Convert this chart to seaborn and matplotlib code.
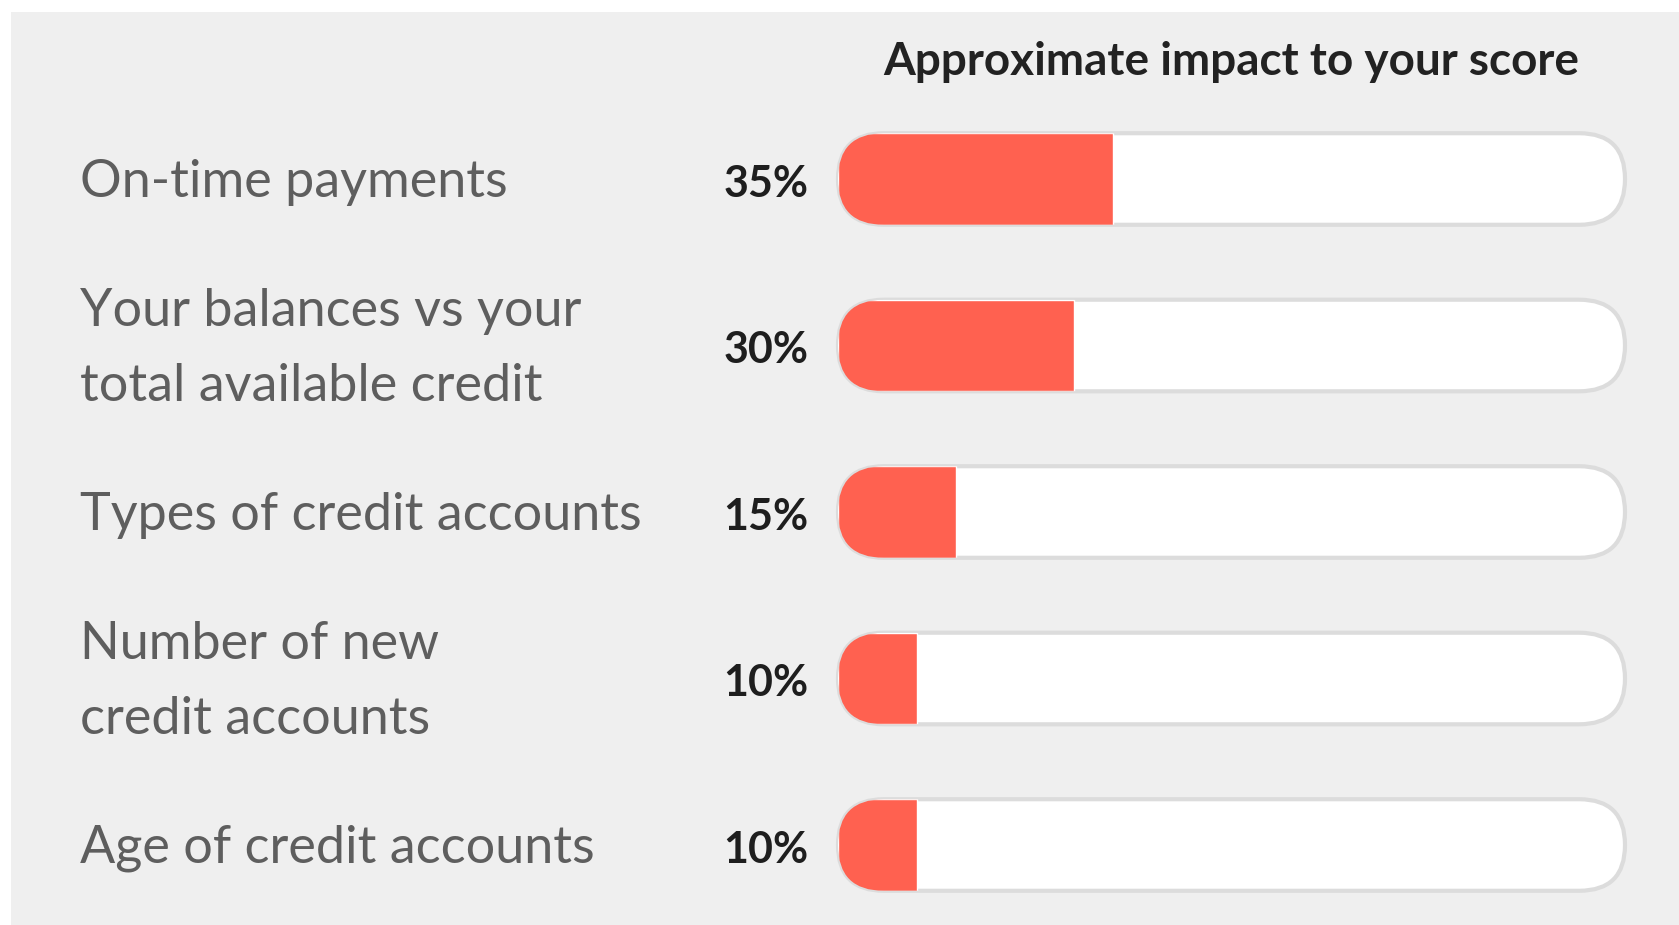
import numpy as np
import pandas as pd
import seaborn as sns
import matplotlib.pyplot as plt
from matplotlib.patches import FancyBboxPatch, Rectangle
from matplotlib.transforms import blended_transform_factory

# data
factors = ['On-time payments',
           'Your balances vs your\ntotal available credit',
           'Types of credit accounts',
           'Number of new\ncredit accounts',
           'Age of credit accounts']
impact = [35, 30, 15, 10, 10]
title = 'Approximate impact to your score'

df = pd.DataFrame({'factor': factors, 'impact': impact})

sns.set_style('white')
plt.rcParams['font.family'] = ['Lato', 'DejaVu Sans']

W, H = 1679, 925
fig = plt.figure(figsize=(W / 100, H / 100), dpi=100, facecolor='white')
# light grey card behind everything
fig.patches.append(Rectangle((11 / W, 0), 1, 1 - 12 / H, transform=fig.transFigure,
                             facecolor='#efefef', edgecolor='none', zorder=-10))

# axes: x 0..100 maps to the bar track, rows 166.5 px apart
row_px = 166.5
top_px = 179 - 0.3 * row_px
ax = fig.add_axes([838 / W, 1 - (top_px + 4.6 * row_px) / H, 787 / W, 4.6 * row_px / H])
ax.patch.set_alpha(0)

bar_h = 0.55
sns.barplot(data=df, x='impact', y='factor', orient='h', color='#ff6150',
            width=bar_h, saturation=1, ax=ax, zorder=3)
ax.set_xlim(0, 100)
ax.set_ylim(4.3, -0.3)
ax.axis('off')

# round tracks: radius in x units, aspect to keep caps circular
px_x = 787 / 100
asp = px_x / row_px
rad = (bar_h * row_px / 2) / px_x
for i, bar in enumerate(ax.patches[:len(factors)]):
    track = FancyBboxPatch((0, i - bar_h / 2), 100, bar_h,
                           boxstyle=f'round,pad=0,rounding_size={rad}',
                           mutation_aspect=asp, facecolor='white',
                           edgecolor='#dcdcdc', lw=3, zorder=1, clip_on=False)
    ax.add_patch(track)
    clipper = FancyBboxPatch((0, i - bar_h / 2), 100, bar_h,
                             boxstyle=f'round,pad=0,rounding_size={rad}',
                             mutation_aspect=asp, facecolor='none',
                             edgecolor='none', transform=ax.transData)
    ax.add_patch(clipper)
    bar.set_clip_path(clipper)

lab_tr = blended_transform_factory(fig.transFigure, ax.transData)
for i, (name, val) in enumerate(zip(factors, impact)):
    ax.text(80 / W, i + 0.02, name, transform=lab_tr, ha='left', va='center',
            fontsize=37.5, color='#5e5e5e', weight='normal', linespacing=1.72)
    ax.text(-3.8, i + 0.03, f'{val}%', ha='right', va='center', fontsize=31,
            color='#1e1e1e', weight='bold', clip_on=False)

ax.text(50, -0.7, title, ha='center', va='center', fontsize=33,
        color='#222222', weight='bold', clip_on=False)

fig.savefig('out.png', dpi=100, facecolor='white')
